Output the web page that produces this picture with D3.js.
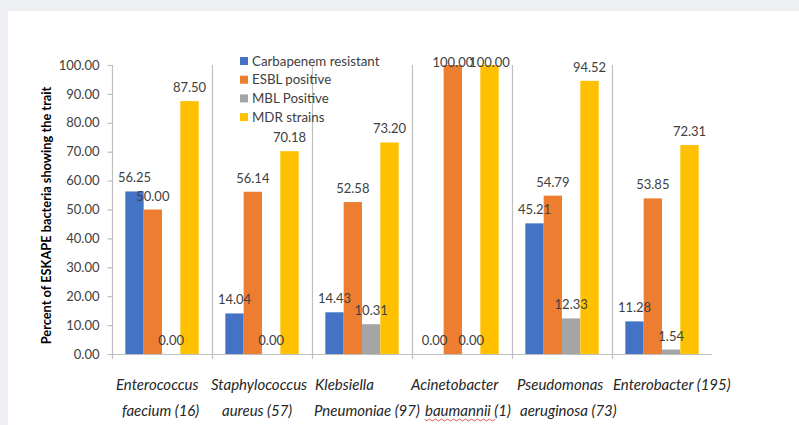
<!DOCTYPE html>
<html><head><meta charset="utf-8">
<script src="https://cdn.jsdelivr.net/npm/d3@7"></script>
<style>
html,body{margin:0;padding:0;background:#eef0f3;}
svg{display:block;}
text{font-family:Lato,"Open Sans",sans-serif;}
</style></head>
<body>
<svg id="c" width="799" height="425"></svg>
<script>
// ---- data ----
const categories = ["Enterococcus faecium (16)","Staphylococcus aureus (57)","Klebsiella Pneumoniae (97)","Acinetobacter baumannii (1)","Pseudomonas aeruginosa (73)","Enterobacter (195)"];
const seriesNames = ["Carbapenem resistant","ESBL positive","MBL Positive","MDR strains"];
const carbapenem = [56.25, 14.04, 14.43, 0.00, 45.21, 11.28];
const esbl       = [50.00, 56.14, 52.58, 100.00, 54.79, 53.85];
const mbl        = [0.00, 0.00, 10.31, 0.00, 12.33, 1.54];
const mdr        = [87.50, 70.18, 73.20, 100.00, 94.52, 72.31];
const yTicks = [0,10,20,30,40,50,60,70,80,90,100];
const labelLine1 = ["Enterococcus","Staphylococcus","Klebsiella","Acinetobacter","Pseudomonas","Enterobacter (195)"];
const labelLine2 = ["faecium (16)","aureus (57)","Pneumoniae (97)","baumannii (1)","aeruginosa (73)",""];
const yTitle = "Percent of ESKAPE bacteria showing the trait";

(function(){
const colors = ["#4472C4","#ED7D31","#A5A5A5","#FFC000"];
const seriesVals = [carbapenem, esbl, mbl, mdr];

const svg = d3.select("#c");
svg.append("rect").attr("x",8).attr("y",11).attr("width",799-8).attr("height",425-11).attr("fill","#fff");

const L=112, R=712, T=65, B=354;
const x = d3.scaleBand().domain(categories).range([L,R]).padding(0);
const xs = d3.scaleBand().domain(seriesNames).range([13.33, 86.67]).padding(0);
const y = d3.scaleLinear().domain([0,100]).range([B, T]);

const g = svg.append("g");
categories.forEach(c=>{
  g.append("line").attr("x1",x(c)+0.5).attr("x2",x(c)+0.5).attr("y1",T).attr("y2",B+5)
   .attr("stroke","#bfbfbf").attr("stroke-width",1.2);
});
g.append("line").attr("x1",L).attr("x2",R).attr("y1",B+0.5).attr("y2",B+0.5)
  .attr("stroke","#bfbfbf").attr("stroke-width",1.2);

const yAxis = d3.axisLeft(y).tickValues(yTicks).tickFormat(d3.format(".2f")).tickSize(5).tickPadding(8);
const ya = svg.append("g").attr("transform",`translate(${L+0.5},0)`).call(yAxis);
ya.select(".domain").remove();
ya.selectAll(".tick line").attr("stroke","#bfbfbf").attr("stroke-width",1.2);
ya.selectAll(".tick text").attr("fill","#404040").style("font-size","13px").style("font-family","Lato");

seriesNames.forEach((s,si)=>{
  const vals = seriesVals[si];
  svg.append("g").selectAll("rect").data(categories).join("rect")
    .attr("x",(c)=>x(c)+xs(s))
    .attr("width",xs.bandwidth())
    .attr("y",(c,i)=>y(vals[i]))
    .attr("height",(c,i)=>B-y(vals[i]))
    .attr("fill",colors[si]);
});
seriesNames.forEach((s,si)=>{
  const vals = seriesVals[si];
  svg.append("g").selectAll("text").data(categories).join("text")
    .attr("x",(c)=>x(c)+xs(s)+xs.bandwidth()/2)
    .attr("y",(c,i)=>Math.max(y(vals[i])-9, 67))
    .attr("text-anchor","middle")
    .attr("fill","#404040")
    .style("font-size","13px")
    .text((c,i)=>vals[i].toFixed(2));
});

const lg = svg.append("g");
seriesNames.forEach((s,i)=>{
  const ly = 61 + i*18.7;
  lg.append("rect").attr("x",240).attr("y",ly-4).attr("width",8).attr("height",8).attr("fill",colors[i]);
  lg.append("text").attr("x",252).attr("y",ly+4.5).attr("fill","#404040").style("font-size","13.3px").text(s);
});

svg.append("text").attr("transform",`translate(51,${(T+B)/2+6}) rotate(-90)`)
  .attr("text-anchor","middle").attr("fill","#000").style("font-size","12.8px").style("font-weight","bold")
  .text(yTitle);

const line1Off = [4, -1, 3, -1, 5, 1];
const line2Off = [10, 10, 2, 13, 8, 0];
categories.forEach((c,i)=>{
  svg.append("text").attr("x",x(c)+line1Off[i]).attr("y",390).attr("fill","#262626")
    .style("font-size","15px").style("font-style","italic").text(labelLine1[i]);
  if(labelLine2[i]){
    svg.append("text").attr("x",x(c)+line2Off[i]).attr("y",416).attr("fill","#262626")
      .style("font-size","15px").style("font-style","italic").text(labelLine2[i]);
    if(i===3){
      const x0 = x(c)+line2Off[i], x1 = x0+70;
      let p = `M${x0},419`;
      for(let k=x0;k<x1;k+=3){ p += ` L${k+1.5},${(k-x0)%6<3?421:419}`; }
      svg.append("path").attr("d",p).attr("fill","none").attr("stroke","#e03030").attr("stroke-width",0.8);
    }
  }
});
})();
</script>
</body></html>
